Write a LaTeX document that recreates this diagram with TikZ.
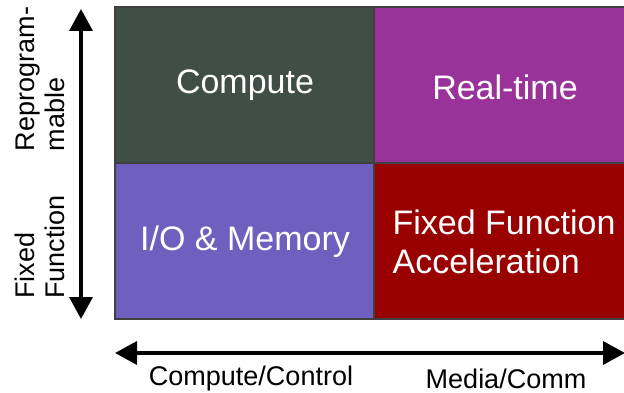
\documentclass[tikz,border=0pt]{standalone}
\usepackage{fontspec}
\setmainfont{Liberation Sans}
\usetikzlibrary{arrows.meta}
\definecolor{cellgreen}{HTML}{3F4F45}
\definecolor{cellpurple}{HTML}{993399}
\definecolor{cellblue}{HTML}{6F5FBF}
\definecolor{cellred}{HTML}{990000}
\begin{document}
\begin{tikzpicture}[x=1pt,y=-1pt,
  cell/.style={draw=black!75,line width=1.2pt,minimum height=156pt,inner sep=0pt,
    font=\fontsize{34}{39}\selectfont,text=white},
  axislabel/.style={font=\fontsize{27}{30}\selectfont,inner sep=0pt},
  axis/.style={line width=3.5pt,{Triangle[length=22pt,width=23pt]}-{Triangle[length=22pt,width=23pt]}}]
\useasboundingbox (0,0) rectangle (624,393);
% quadrant cells
\node[cell,fill=cellgreen,minimum width=259pt] (tl) at (244.5,85) {};
\node[cell,fill=cellpurple,minimum width=252pt] (tr) at (500,85) {};
\node[cell,fill=cellblue,minimum width=259pt] (bl) at (244.5,241) {};
\node[cell,fill=cellred,minimum width=252pt] (br) at (500,241) {};
% cell titles
\node[cell,draw=none,minimum height=0pt] (tlt) at (245,85) {Compute};
\node[cell,draw=none,minimum height=0pt] (trt) at (505,87) {Real-time};
\node[cell,draw=none,minimum height=0pt] (blt) at (245,242) {I/O \& Memory};
\node[cell,draw=none,minimum height=0pt,align=left,anchor=west] (brt) at (392,242) {Fixed Function\\Acceleration};
% axes
\coordinate (vtop) at (81,9);
\coordinate (vbot) at (81,319);
\coordinate (hleft) at (115,353);
\coordinate (hright) at (625,353);
\draw[axis] (vbot) -- (vtop);
\draw[axis] (hleft) -- (hright);
% axis labels
\node[axislabel,rotate=90,align=left] (repro) at (40,79) {Reprogram-\\mable};
\node[axislabel,rotate=90,align=left] (fixed) at (40,247) {Fixed\\Function};
\node[axislabel] (cc) at (251,379) {Compute/Control};
\node[axislabel] (mc) at (506,379) {Media/Comm};
\end{tikzpicture}
\end{document}
